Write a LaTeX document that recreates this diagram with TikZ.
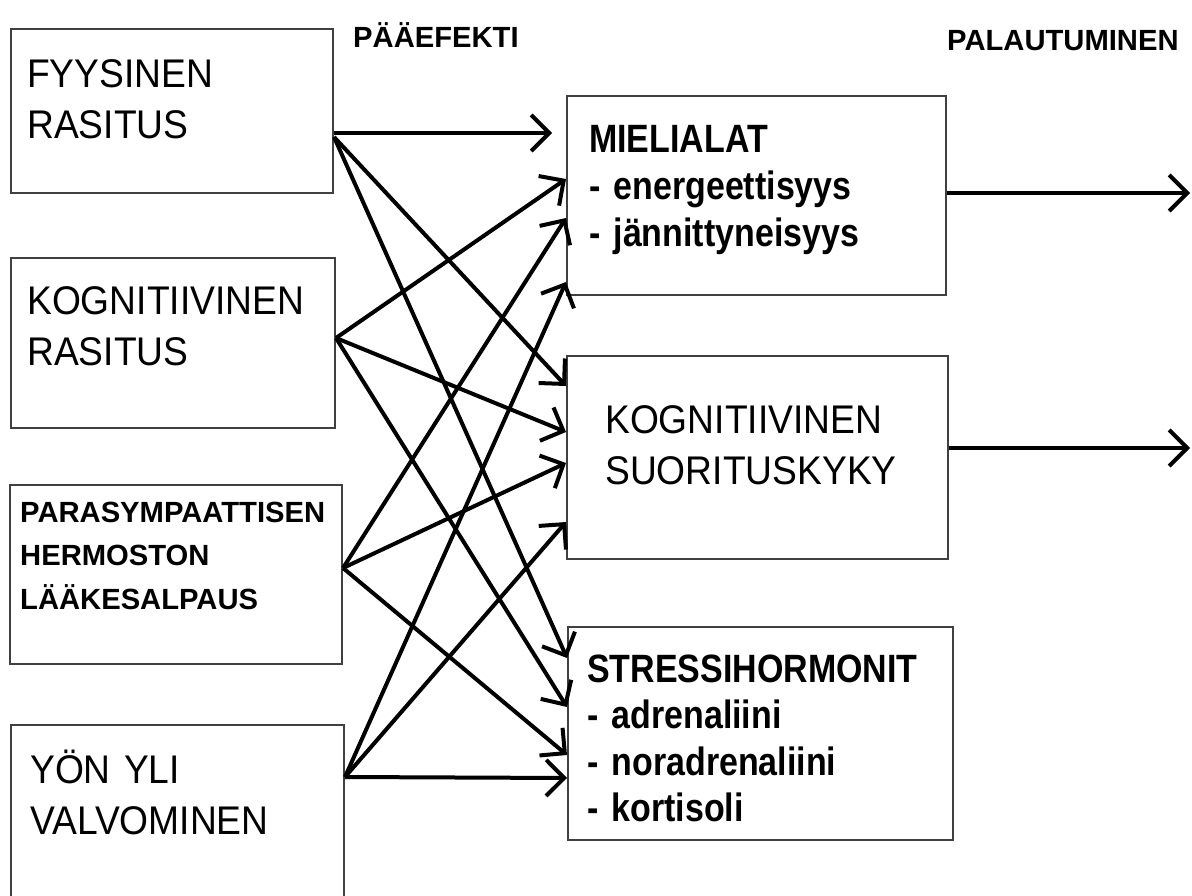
\documentclass[tikz,border=0pt]{standalone}
\usepackage{fontspec}
\setmainfont{Liberation Sans}
\newfontfamily\bigfont[FakeStretch=0.93]{Liberation Sans}
\newfontfamily\listfont[FakeStretch=0.86]{Liberation Sans}
\usetikzlibrary{arrows.meta}

\begin{document}
\begin{tikzpicture}[x=1pt, y=-1pt,
	box/.style={draw=black!75, line width=2pt, anchor=north west, inner sep=0pt},
	bigtext/.style={anchor=base west, inner sep=0pt, align=left, text width=330pt, font=\bigfont\fontsize{40}{51}\selectfont},
	listtext/.style={anchor=base west, inner sep=0pt, align=left, text width=360pt, font=\listfont\bfseries\fontsize{39.5}{46.6}\selectfont},
	smalltext/.style={anchor=base west, inner sep=0pt, align=left, text width=330pt, font=\bfseries\fontsize{29.2}{43.5}\selectfont},
	head/.style={anchor=base west, inner sep=0pt, font=\bfseries\fontsize{29.2}{35}\selectfont},
	arr/.style={line width=4pt, -{Straight Barb[length=18pt, width=36pt]}}]
	\useasboundingbox[fill=white] (0,0) rectangle (1192,896);
	\clip (0,0) rectangle (1192,896);

	\node[head] (paa) at (353,48) {PÄÄEFEKTI};
	\node[head] (pal) at (947,51) {PALAUTUMINEN};

	\node[box, minimum width=322pt, minimum height=164pt] (fys) at (10,28) {};
	\node[bigtext] (fys-t) at ([shift={(17,60)}]fys.north west) {FYYSINEN\\RASITUS};
	\node[box, minimum width=324pt, minimum height=170pt] (kgr) at (10,257) {};
	\node[bigtext] (kgr-t) at ([shift={(17,58)}]kgr.north west) {KOGNITIIVINEN\\RASITUS};
	\node[box, minimum width=332pt, minimum height=179pt] (par) at (9,484) {};
	\node[smalltext] (par-t) at ([shift={(11,38)}]par.north west) {PARASYMPAATTISEN\\HERMOSTON\\LÄÄKESALPAUS};
	\node[box, minimum width=333pt, minimum height=200pt] (yon) at (10,724) {};
	\node[bigtext] (yon-t) at ([shift={(20,59)}]yon.north west) {YÖN YLI\\VALVOMINEN};

	\node[box, minimum width=379pt, minimum height=199pt] (mie) at (566,95) {};
	\node[listtext] (mie-t) at ([shift={(23,58)}]mie.north west) {MIELIALAT\\- energeettisyys\\- jännittyneisyys};
	\node[box, minimum width=381pt, minimum height=203pt] (kog) at (566,355) {};
	\node[bigtext] (kog-t) at ([shift={(39,78)}]kog.north west) {KOGNITIIVINEN\\SUORITUSKYKY};
	\node[box, minimum width=385pt, minimum height=213pt] (str) at (567,626) {};
	\node[listtext] (str-t) at ([shift={(20,56)}]str.north west) {STRESSIHORMONIT\\- adrenaliini\\- noradrenaliini\\- kortisoli};

	\draw[arr, shorten >=14pt] (fys.east |- 0,133) -- (mie.west |- 0,133);
	\draw[arr] (fys.east |- 0,137) -- (kog.west |- 0,386);
	\draw[arr] (fys.east |- 0,137) -- (str.west |- 0,658);
	\draw[arr] (kgr.east |- 0,338) -- (mie.west |- 0,179);
	\draw[arr] (kgr.east |- 0,338) -- (kog.west |- 0,432);
	\draw[arr] (kgr.east |- 0,338) -- (str.west |- 0,707);
	\draw[arr] (par.east |- 0,568) -- (mie.west |- 0,218);
	\draw[arr] (par.east |- 0,568) -- (kog.west |- 0,463);
	\draw[arr] (par.east |- 0,568) -- (str.west |- 0,755);
	\draw[arr] (yon.east |- 0,777) -- (mie.west |- 0,282);
	\draw[arr] (yon.east |- 0,777) -- (kog.west |- 0,522);
	\draw[arr] (yon.east |- 0,777) -- (str.west |- 0,778);

	\coordinate (out1) at (1190,193);
	\coordinate (out2) at (1190,448);
	\draw[arr] (mie.east |- out1) -- (out1);
	\draw[arr] (kog.east |- out2) -- (out2);
\end{tikzpicture}
\end{document}
